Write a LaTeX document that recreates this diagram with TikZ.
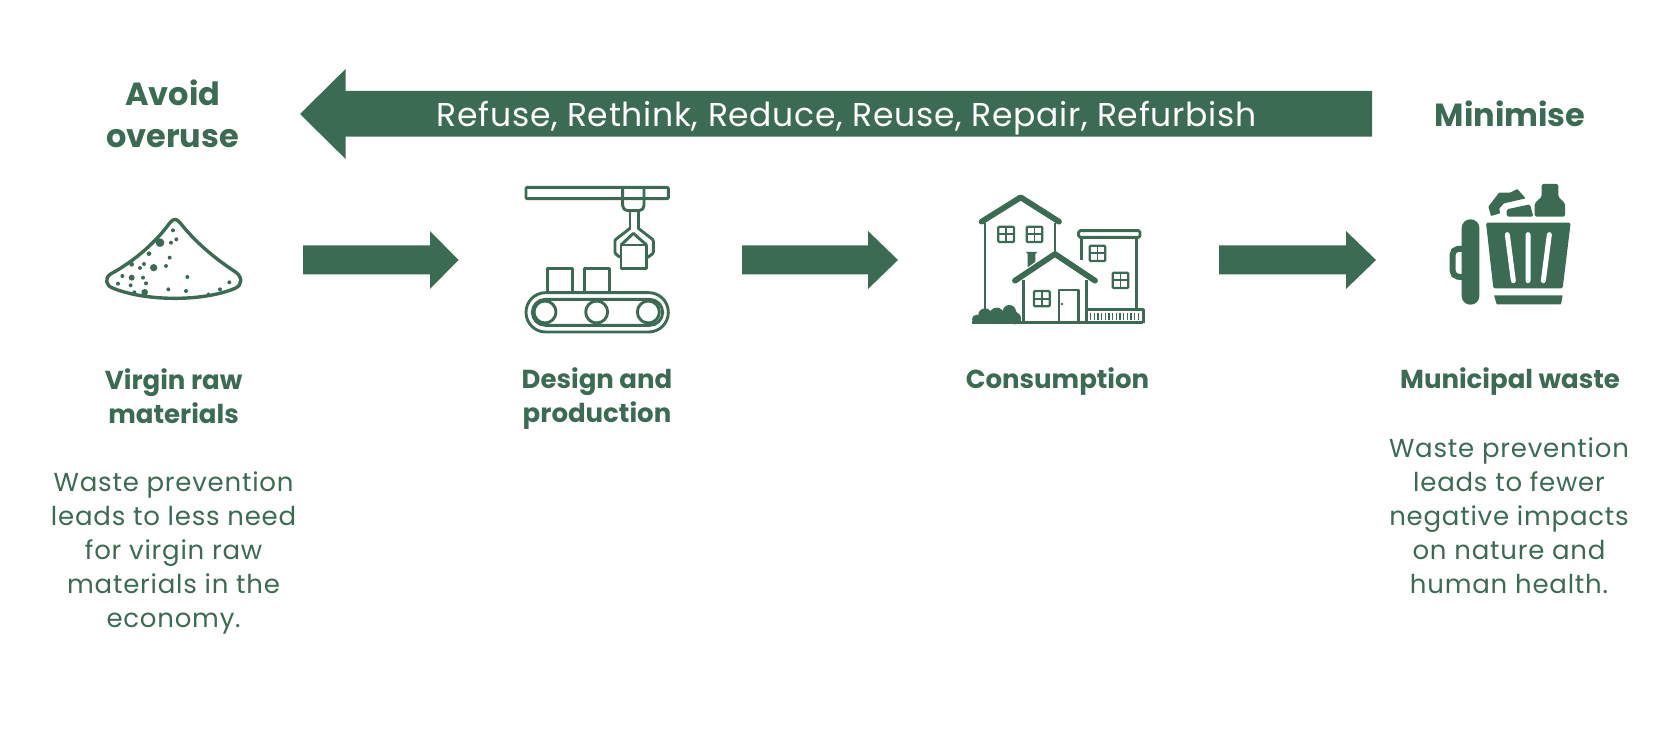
\documentclass[tikz,border=0pt]{standalone}
\usepackage{fontspec}
\setmainfont{Poppins}
\newfontfamily\remarkfont[LetterSpace=3]{Poppins}
\newfontfamily\bandfont[LetterSpace=2.1]{Poppins}
\usepackage{tikz}
\usetikzlibrary{positioning,calc}
\definecolor{leaf}{HTML}{3C6B53}
\tikzset{
  blockarrow/.style={fill=leaf,draw=none},
  heading/.style={text=leaf,align=center,font=\fontsize{32}{42}\selectfont\bfseries},
  stage/.style={text=leaf,align=center,font=\fontsize{26}{34}\selectfont\bfseries},
  remark/.style={text=leaf,align=center,font=\remarkfont\fontsize{26}{34}\selectfont},
  icon/.style={draw=leaf,line width=2.9pt,line join=round},
  fatline/.style={draw=leaf,line width=5.8pt,line cap=round,line join=round},
  pane/.style={draw=leaf,line width=2.2pt,rounded corners=1pt},
}
\begin{document}
\begin{tikzpicture}[x=1pt,y=-1pt]
\useasboundingbox (0,0) rectangle (1670,730);
\fill[blockarrow] (1372,91) -- (345.6,91) -- (345.6,69) -- (300,114) -- (345.6,159) -- (345.6,136.7) -- (1372,136.7) -- cycle;
\foreach \xa/\xb/\xc in {303/430/458.5,742/868/898,1219/1346/1376}
  \fill[blockarrow] (\xa,245.3) -- (\xb,245.3) -- (\xb,231) -- (\xc,260) -- (\xb,289) -- (\xb,274.3) -- (\xa,274.3) -- cycle;
\node[text=white,font=\bandfont\fontsize{33}{36}\selectfont] (band) at (846.6,118) {Refuse, Rethink, Reduce, Reuse, Repair, Refurbish};
\node[heading] (avoid) at (172.6,114) {Avoid\\overuse};
\node[heading] (minimise) at (1510,114) {Minimise};
\node[stage] (virgin) at (173.6,396) {Virgin raw\\materials};
\node[stage] (design) at (597,399) {Design and\\production};
\node[stage] (consumption) at (1057.5,382) {Consumption};
\node[stage] (municipal) at (1510,382) {Municipal waste};
\node[remark] (less) at (173.6,553) {Waste prevention\\leads to less need\\for virgin raw\\materials in the\\economy.};
\node[remark] (fewer) at (1509,515.5) {Waste prevention\\leads to fewer\\negative impacts\\on nature and\\human health.};
\begin{scope}[shift={(80,180)},scale=1/3]
\draw[icon,line width=3.4pt] (270,128) .. controls (225,190) and (160,245) .. (92,282) .. controls (72,295) and (78,318) .. (100,325) .. controls (200,365) and (370,365) .. (465,325) .. controls (488,315) and (488,290) .. (465,275) .. controls (400,232) and (345,185) .. (300,128) .. controls (290,115) and (280,115) .. (270,128) -- cycle;
\foreach \dx/\dy/\dr in {279/151/6,289/178/6,273/188/6,240/188/13,207/221/7,269/233/6,192/252/6,155/253/7,180/264/6,221/263/11,258/258/6,127/288/6,155/293/9,189/293/6,322/291/6,198/310/6,114/311/6,152/316/6,448/307/6,265/328/6,318/333/6,194/337/10,163/337/6,420/328/6,385/342/5}
  \fill[leaf] (\dx,\dy) circle[radius=\dr];
\end{scope}
\begin{scope}[shift={(500,170)},scale=1/3]
\draw[icon,rounded corners=1pt] (78,52) rectangle (505,86);
\draw[icon,rounded corners=5pt] (368,55) -- (368,122) -- (432,122) -- (432,55);
\draw[icon] (390,122) -- (390,178) (415,122) -- (415,178);
\draw[icon,rounded corners=1pt] (390,175) -- (345,210) -- (345,250) -- (360,262);
\draw[icon,rounded corners=1pt] (415,175) -- (460,210) -- (460,250) -- (443,262);
\draw[icon] (363,225) rectangle (440,295);
\draw[icon] (363,225) -- (400,190) -- (440,225);
\draw[icon] (143,368) -- (143,296) -- (218,296) -- (218,368);
\draw[icon] (253,368) -- (253,296) -- (328,296) -- (328,368);
\draw[icon,rounded corners=19.6pt] (78,368) rectangle (505,486);
\draw[icon,rounded corners=13pt] (97,388) rectangle (488,466);
\foreach \rx in {135,290,445}
  \draw[icon,fill=white] (\rx,426) circle[radius=33];
\end{scope}
\begin{scope}[shift={(960,180)},scale=1/3]
\draw[icon,line width=2.5pt] (75,130) -- (75,395) (285,130) -- (285,215);
\draw[fatline] (65,125) -- (182,52) -- (297,125);
\draw[icon,line width=2.5pt] (365,172) -- (365,240) (530,172) -- (530,385);
\draw[icon,rounded corners=1.5pt] (356,152) rectangle (540,172);
\foreach \wx/\wy in {115/140,200/140,389/197,458/278,222/333} {
  \draw[pane] (\wx,\wy) rectangle ++(47,46);
  \draw[leaf,line width=1.8pt] (\wx+23.5,\wy) -- ++(0,46) (\wx,\wy+23) -- ++(47,0);
}
\fill[leaf] (198,216) -- (232,216) -- (226,222) -- (226,245) -- (203,262) -- (203,222) -- cycle;
\draw[icon,line width=2.5pt] (190,300) -- (190,425) (380,300) -- (380,425);
\draw[fatline] (165,302) -- (285,222) -- (405,302);
\draw[icon,line width=2.5pt] (297,425) -- (297,330) -- (356,330) -- (356,425);
\fill[leaf] (306,372) circle[radius=4];
\draw[icon,line width=2.6pt] (35,428) -- (550,428);
\fill[leaf] (50,418) circle[radius=14] (75,405) circle[radius=20] (110,405) circle[radius=22] (148,395) circle[radius=20] (165,415) circle[radius=18];
\fill[leaf] (40,428) -- (185,428) -- (170,395) -- (75,395) -- cycle;
\draw[icon,line width=2.5pt] (380,388) -- (550,388) -- (550,428);
\foreach \fx in {392,403,...,542}
  \draw[leaf,line width=1.3pt] (\fx,398) -- (\fx,421);
\end{scope}
\begin{scope}[shift={(1430,170)},scale=1/3]
\draw[leaf,line width=6pt,rounded corners=5pt] (100,236) -- (68,238) -- (68,318) -- (100,322);
\fill[leaf,rounded corners=8.6pt] (95,148) rectangle (148,404);
\fill[leaf,rounded corners=1.5pt] (168,158) -- (422,158) -- (398,355) -- (190,355) -- cycle;
\draw[white,line width=5pt,line cap=round] (232,194) -- (250,332) (294,194) -- (294,332) (358,194) -- (340,332);
\fill[leaf,rounded corners=.6pt] (192,376) -- (398,376) -- (393,403) -- (200,403) -- cycle;
\fill[leaf,rounded corners=1.5pt] (335,42) -- (385,42) -- (385,80) -- (405,100) -- (405,140) -- (314,140) -- (314,100) -- (335,80) -- cycle;
\fill[leaf,rounded corners=1.5pt] (230,140) -- (230,118) -- (300,103) -- (310,140) -- cycle;
\fill[leaf,rounded corners=.6pt] (175,110) -- (207,68) -- (240,68) -- (262,57) -- (287,85) -- (222,100) -- (208,115) -- (210,130) -- (183,138) -- cycle;
\end{scope}
\end{tikzpicture}
\end{document}
